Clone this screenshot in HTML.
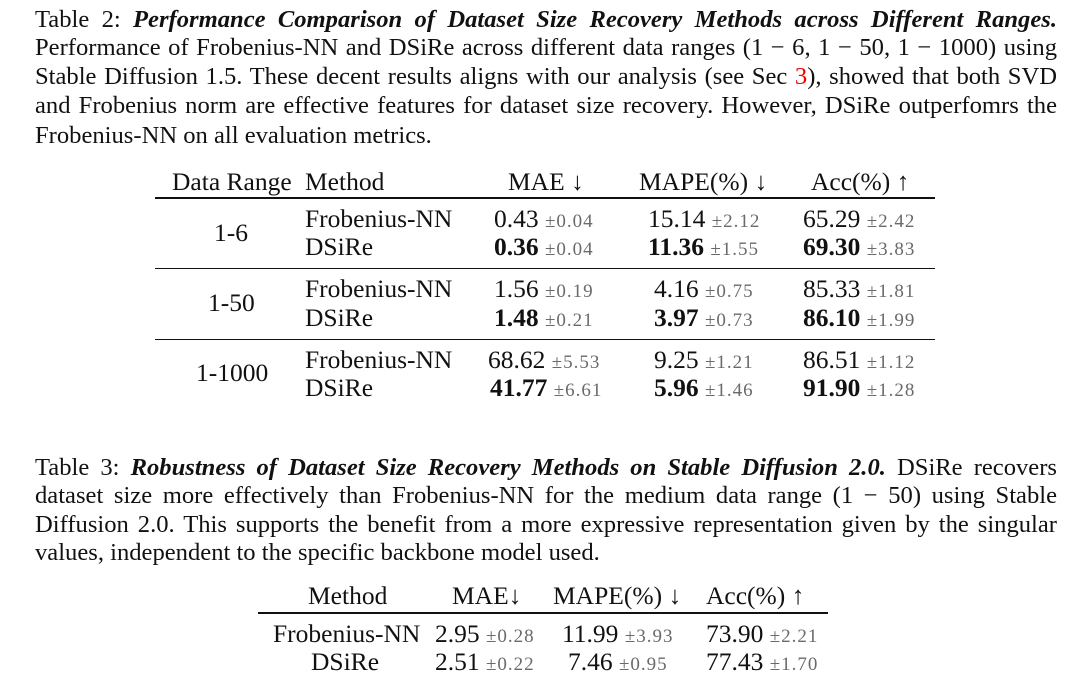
<!DOCTYPE html>
<html><head><meta charset="utf-8"><style>
body{margin:0;width:1080px;height:700px;background:#fff;position:relative;overflow:hidden;font-family:"Liberation Serif",serif;color:#111;}
.a{position:absolute;font-size:25.5px;line-height:30px;white-space:nowrap;}
.j{position:absolute;left:35px;width:1022px;font-size:24.6px;line-height:30px;text-align:justify;text-align-last:justify;white-space:nowrap;}
.j.l{text-align-last:left;}
.pm{font-size:19px;color:#6a6a6a;letter-spacing:1px;}
b{font-weight:bold;}
.r{position:absolute;background:#111;}
.red{color:#e00;}
</style></head><body>
<div>
<div class="j" style="top:5px">Table 2: <b><i>Performance Comparison of Dataset Size Recovery Methods across Different Ranges.</i></b></div>
<div class="j" style="top:33px">Performance of Frobenius-NN and DSiRe across different data ranges (1 − 6, 1 − 50, 1 − 1000) using</div>
<div class="j" style="top:62px">Stable Diffusion 1.5. These decent results aligns with our analysis (see Sec <span class="red">3</span>), showed that both SVD</div>
<div class="j" style="top:91px">and Frobenius norm are effective features for dataset size recovery. However, DSiRe outperfomrs the</div>
<div class="j l" style="top:121px">Frobenius-NN on all evaluation metrics.</div>
</div>
<div>
<span class="a" style="left:172px;top:167px">Data Range</span>
<span class="a" style="left:305px;top:167px">Method</span>
<span class="a" style="left:508px;top:167px">MAE ↓</span>
<span class="a" style="left:639px;top:167px">MAPE(%) ↓</span>
<span class="a" style="left:811px;top:167px">Acc(%) ↑</span>
<div class="r" style="left:155px;top:197px;width:780px;height:2px"></div>
<div class="r" style="left:155px;top:268px;width:780px;height:1px"></div>
<div class="r" style="left:155px;top:339px;width:780px;height:1px"></div>

<span class="a" style="left:214px;top:218px">1-6</span>
<span class="a" style="left:208px;top:288px">1-50</span>
<span class="a" style="left:196px;top:358px">1-1000</span>

<span class="a" style="left:305px;top:204px">Frobenius-NN</span>
<span class="a" style="left:305px;top:232px">DSiRe</span>
<span class="a" style="left:305px;top:274px">Frobenius-NN</span>
<span class="a" style="left:305px;top:303px">DSiRe</span>
<span class="a" style="left:305px;top:345px">Frobenius-NN</span>
<span class="a" style="left:305px;top:373px">DSiRe</span>

<span class="a" style="left:494px;top:204px">0.43 <span class="pm">±0.04</span></span>
<span class="a" style="left:494px;top:232px"><b>0.36</b> <span class="pm">±0.04</span></span>
<span class="a" style="left:494px;top:274px">1.56 <span class="pm">±0.19</span></span>
<span class="a" style="left:494px;top:303px"><b>1.48</b> <span class="pm">±0.21</span></span>
<span class="a" style="left:488px;top:345px">68.62 <span class="pm">±5.53</span></span>
<span class="a" style="left:490px;top:373px"><b>41.77</b> <span class="pm">±6.61</span></span>

<span class="a" style="left:648px;top:204px">15.14 <span class="pm">±2.12</span></span>
<span class="a" style="left:648px;top:232px"><b>11.36</b> <span class="pm">±1.55</span></span>
<span class="a" style="left:654px;top:274px">4.16 <span class="pm">±0.75</span></span>
<span class="a" style="left:654px;top:303px"><b>3.97</b> <span class="pm">±0.73</span></span>
<span class="a" style="left:654px;top:345px">9.25 <span class="pm">±1.21</span></span>
<span class="a" style="left:654px;top:373px"><b>5.96</b> <span class="pm">±1.46</span></span>

<span class="a" style="left:803px;top:204px">65.29 <span class="pm">±2.42</span></span>
<span class="a" style="left:803px;top:232px"><b>69.30</b> <span class="pm">±3.83</span></span>
<span class="a" style="left:803px;top:274px">85.33 <span class="pm">±1.81</span></span>
<span class="a" style="left:803px;top:303px"><b>86.10</b> <span class="pm">±1.99</span></span>
<span class="a" style="left:803px;top:345px">86.51 <span class="pm">±1.12</span></span>
<span class="a" style="left:803px;top:373px"><b>91.90</b> <span class="pm">±1.28</span></span>
</div>

<div>
<div class="j" style="top:453px">Table 3: <b><i>Robustness of Dataset Size Recovery Methods on Stable Diffusion 2.0.</i></b> DSiRe recovers</div>
<div class="j" style="top:481px">dataset size more effectively than Frobenius-NN for the medium data range (1 − 50) using Stable</div>
<div class="j" style="top:510px">Diffusion 2.0. This supports the benefit from a more expressive representation given by the singular</div>
<div class="j l" style="top:538px">values, independent to the specific backbone model used.</div>
</div>
<div>
<span class="a" style="left:308px;top:581px">Method</span>
<span class="a" style="left:452px;top:581px">MAE↓</span>
<span class="a" style="left:553px;top:581px">MAPE(%) ↓</span>
<span class="a" style="left:706px;top:581px">Acc(%) ↑</span>
<div class="r" style="left:258px;top:612px;width:570px;height:2px"></div>
<span class="a" style="left:273px;top:619px">Frobenius-NN</span>
<span class="a" style="left:311px;top:647px">DSiRe</span>
<span class="a" style="left:435px;top:619px">2.95 <span class="pm">±0.28</span></span>
<span class="a" style="left:435px;top:647px">2.51 <span class="pm">±0.22</span></span>
<span class="a" style="left:562px;top:619px">11.99 <span class="pm">±3.93</span></span>
<span class="a" style="left:568px;top:647px">7.46 <span class="pm">±0.95</span></span>
<span class="a" style="left:706px;top:619px">73.90 <span class="pm">±2.21</span></span>
<span class="a" style="left:706px;top:647px">77.43 <span class="pm">±1.70</span></span>
</div>
</body></html>
